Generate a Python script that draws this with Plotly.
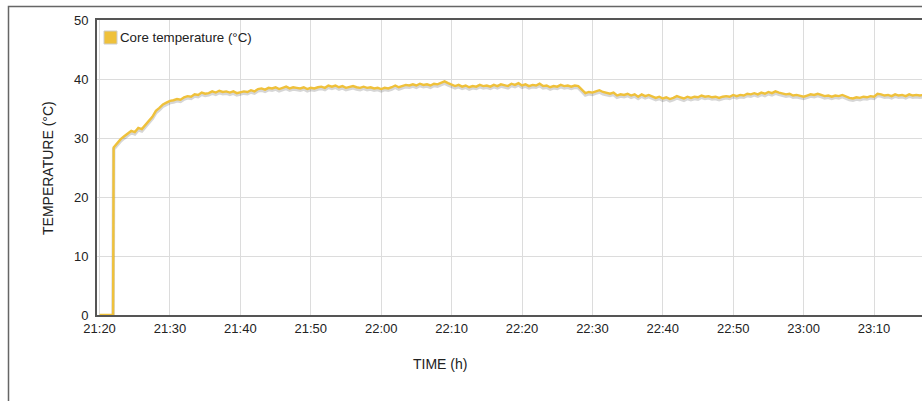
import pandas as pd
import plotly.graph_objects as go

# ---- data ----
series_name = "Core temperature (°C)"
onset_times = ["2024-01-01 21:20:00", "2024-01-01 21:20:30", "2024-01-01 21:21:00",
               "2024-01-01 21:21:30", "2024-01-01 21:21:55"]
onset_values = [0, 0, 0, 0, 0]
main_start = "2024-01-01 21:22:00"  # 30 s sampling from here
temp_2122_2130 = [28.4, 29.2, 29.8, 30.3, 30.8, 31.2, 31.0, 31.7, 31.5, 32.3,
                  32.9, 33.6, 34.6, 35.1, 35.7, 36.0]
temp_2130_2140 = [36.3, 36.4, 36.6, 36.5, 36.9, 37.1, 37.0, 37.4, 37.3, 37.7,
                  37.5, 37.6, 37.9, 37.7, 38.0, 37.8, 37.9, 37.7, 37.9, 37.6]
temp_2140_2150 = [37.8, 37.9, 37.8, 38.1, 37.9, 38.3, 38.4, 38.2, 38.5, 38.4,
                  38.6, 38.3, 38.5, 38.7, 38.4, 38.6, 38.5, 38.4, 38.6, 38.3]
temp_2150_2200 = [38.5, 38.4, 38.6, 38.7, 38.5, 38.9, 38.7, 38.9, 38.6, 38.8,
                  38.5, 38.6, 38.8, 38.6, 38.5, 38.7, 38.5, 38.6, 38.4, 38.5]
temp_2200_2210 = [38.3, 38.5, 38.4, 38.6, 38.9, 38.6, 38.8, 39.0, 38.9, 39.1,
                  38.9, 39.2, 39.0, 39.1, 38.9, 39.2, 39.1, 39.3, 39.6, 39.3]
temp_2210_2220 = [39.1, 38.8, 39.0, 38.7, 38.9, 38.6, 38.8, 38.7, 39.0, 38.8,
                  38.9, 38.7, 39.0, 38.8, 39.1, 38.9, 38.8, 39.2, 39.0, 39.3]
temp_2220_2230 = [38.9, 39.1, 38.8, 39.0, 38.9, 39.2, 38.8, 38.9, 38.6, 38.8,
                  38.7, 39.0, 38.8, 38.9, 38.7, 38.9, 38.8, 38.2, 37.6, 37.8]
temp_2230_2240 = [37.7, 37.9, 38.1, 37.8, 37.6, 37.5, 37.7, 37.2, 37.4, 37.3,
                  37.5, 37.2, 37.4, 37.0, 37.4, 37.1, 37.3, 37.0, 36.8, 37.0]
temp_2240_2250 = [36.7, 36.9, 36.6, 36.8, 37.1, 36.9, 36.7, 37.0, 36.8, 37.0,
                  36.9, 37.2, 37.0, 37.1, 36.9, 37.0, 36.8, 37.0, 37.1, 37.0]
temp_2250_2300 = [37.3, 37.1, 37.3, 37.2, 37.5, 37.4, 37.6, 37.4, 37.7, 37.5,
                  37.8, 37.6, 37.9, 37.7, 37.6, 37.4, 37.5, 37.2, 37.3, 37.1]
temp_2300_2310 = [37.0, 37.2, 37.4, 37.3, 37.5, 37.3, 37.1, 37.2, 37.0, 37.2,
                  37.1, 37.3, 37.0, 36.8, 36.7, 36.9, 36.8, 37.0, 36.9, 37.1]
temp_2310_2317 = [37.0, 37.5, 37.4, 37.2, 37.3, 37.1, 37.4, 37.2, 37.3, 37.1,
                  37.4, 37.2, 37.3, 37.2, 37.3]
x_tick_step_min = 10
x_range = ["2024-01-01 21:19:38", "2024-01-01 23:16:49"]
y_range = [0, 50]
y_ticks = [0, 10, 20, 30, 40, 50]

main_values = (temp_2122_2130 + temp_2130_2140 + temp_2140_2150 + temp_2150_2200 +
               temp_2200_2210 + temp_2210_2220 + temp_2220_2230 + temp_2230_2240 +
               temp_2240_2250 + temp_2250_2300 + temp_2300_2310 + temp_2310_2317)
main_times = pd.date_range(main_start, periods=len(main_values), freq="30s")
times = list(pd.to_datetime(onset_times)) + list(main_times)
values = onset_values + main_values

# ---- figure ----
W, H = 922, 401
ML, MR, MT, MB = 97, 0, 20, 86
pw, ph = W - ML - MR, H - MT - MB

def px_x(p):
    return (p - ML) / pw

def px_y(p):
    return (H - MB - p) / ph

line_color = "#EFC13B"
fig = go.Figure()
fig.add_trace(go.Scatter(x=times, y=[v - 0.3 for v in values], mode="lines",
                         line=dict(color="rgba(0,0,0,0.16)", width=3.5),
                         hoverinfo="skip", showlegend=False))
fig.add_trace(go.Scatter(x=times, y=values, mode="lines", name=series_name,
                         line=dict(color=line_color, width=2.4), showlegend=False))

fam = "Liberation Sans, Arial, sans-serif"
font = dict(family=fam, size=13, color="#222")
fig.update_layout(
    width=W, height=H, margin=dict(l=ML, r=MR, t=MT, b=MB),
    paper_bgcolor="white", plot_bgcolor="white", font=font, showlegend=False,
    xaxis=dict(range=x_range, type="date", tick0="2024-01-01 21:20:00",
               dtick=x_tick_step_min * 60000, tickformat="%H:%M",
               showgrid=True, gridcolor="#dcdcdc", gridwidth=1,
               showline=True, linecolor="#555", linewidth=2, mirror=True,
               ticks="", ticklen=0, zeroline=False, tickfont=font),
    yaxis=dict(range=y_range, tickvals=y_ticks, showgrid=True, gridcolor="#dcdcdc",
               showline=True, linecolor="#555", linewidth=2, ticks="",
               zeroline=False, tickfont=font, ticklabelstandoff=4),
    shapes=[
        dict(type="rect", xref="paper", yref="paper",
             x0=px_x(8.5), x1=px_x(W + 20), y0=px_y(H + 20), y1=px_y(6.5),
             line=dict(color="#666", width=1.5), fillcolor="rgba(0,0,0,0)", layer="below"),
        dict(type="rect", xref="paper", yref="paper",
             x0=px_x(104), x1=px_x(117), y0=px_y(44), y1=px_y(31),
             line=dict(color="#ccc", width=1), fillcolor=line_color),
    ],
    annotations=[
        dict(text=series_name, xref="paper", yref="paper", x=px_x(117.5), y=px_y(37.5),
             xanchor="left", yanchor="middle", showarrow=False,
             font=dict(family=fam, size=13.3, color="#222")),
        dict(text="TIME (h)", xref="paper", yref="paper", x=px_x(440), y=px_y(364),
             xanchor="center", yanchor="middle", showarrow=False,
             font=dict(family=fam, size=14, color="#222")),
        dict(text="TEMPERATURE (°C)", xref="paper", yref="paper", x=px_x(48), y=px_y(168),
             xanchor="center", yanchor="middle", showarrow=False, textangle=-90,
             font=dict(family=fam, size=14, color="#222")),
    ],
)
fig.write_html("out.html", config={"displayModeBar": False},
               post_script="document.body.style.margin='0';document.body.style.overflow='hidden';")
